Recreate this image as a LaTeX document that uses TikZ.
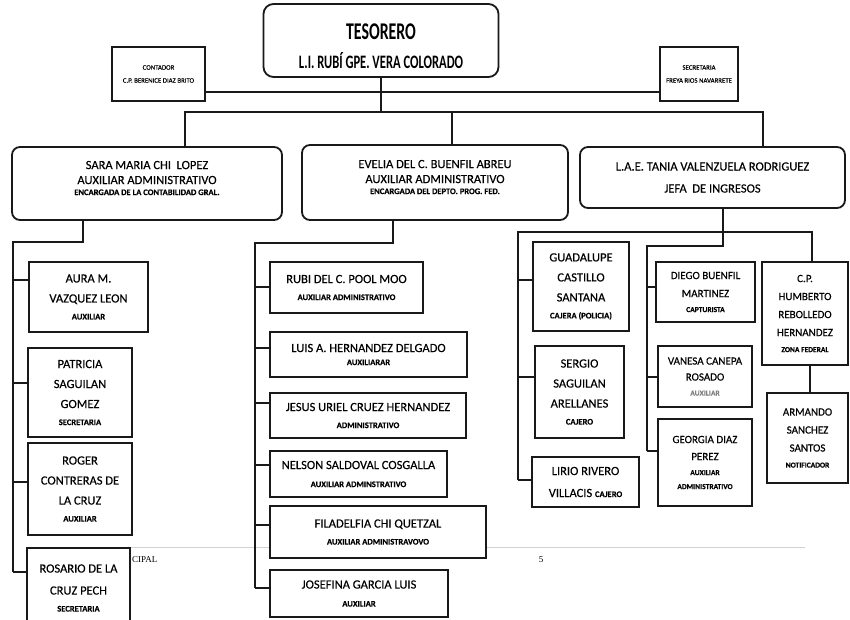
\documentclass[tikz,border=0pt]{standalone}
\usepackage{fontspec}
\setmainfont{Carlito}[FakeBold=0.35]
\newfontfamily\topfont{Carlito}[FakeStretch=0.66]
\newfontfamily\footfont{Liberation Serif}
\definecolor{orgink}{RGB}{25,25,25}
\newcommand{\rolesm}[1]{{\fontsize{8.5}{10}\selectfont\bfseries #1}}
\newcommand{\roletiny}[1]{{\fontsize{7.5}{9}\selectfont\bfseries #1}}

\begin{document}
\begin{tikzpicture}[x=1pt, y=-1pt,
  orgbox/.style={draw=orgink, line width=1.8pt, fill=white, inner sep=0pt, align=center},
  topbox/.style={orgbox, rounded corners=10pt},
  headbox/.style={orgbox, rounded corners=8pt, font=\fontsize{12.5}{15}\selectfont},
  smallbox/.style={orgbox, font=\fontsize{6.8}{13}\selectfont},
  staffbox/.style={orgbox, font=\fontsize{12.5}{20}\selectfont},
  fieldbox/.style={orgbox, font=\fontsize{11}{18}\selectfont},
  link/.style={draw=orgink, line width=1.8pt}]

  \useasboundingbox (0,0) rectangle (850,619);
  \fill[white] (0,0) rectangle (850,619);
  \clip (0,0) rectangle (850,619);

  % page footer
  \coordinate (footL) at (130,547);
  \coordinate (footR) at (805,547);
  \draw[gray!35, line width=0.6pt] (footL) -- (footR);
  \node[anchor=west, inner sep=0pt, font=\footfont\fontsize{9}{10}\selectfont] (footword) at (132,560) {CIPAL};
  \node[inner sep=0pt, font=\footfont\fontsize{9}{10}\selectfont] (pagenum) at (541,560) {5};

  % top level
  \node[topbox, minimum width=235pt, minimum height=73pt] (tes) at (381,40.5) {};
  \node[anchor=base, font=\topfont\bfseries\fontsize{24}{26}\selectfont] (testitle) at (381,39) {TESORERO};
  \node[anchor=base, font=\topfont\bfseries\fontsize{19}{21}\selectfont] (tesname) at (381,68) {L.I. RUBÍ GPE. VERA COLORADO};
  \node[smallbox, minimum width=93pt, minimum height=54pt] (cont) at (158.5,74) {CONTADOR\\C.P. BERENICE DIAZ BRITO};
  \node[smallbox, minimum width=78pt, minimum height=54pt] (secr) at (699,74) {SECRETARIA\\FREYA RIOS NAVARRETE};

  % heads
  \node[headbox, text depth=11pt, minimum width=270pt, minimum height=73pt] (sara) at (147,183.5)
    {SARA MARIA CHI~ LOPEZ\\AUXILIAR ADMINISTRATIVO\\[-4pt]\rolesm{ENCARGADA DE LA CONTABILIDAD GRAL.}};
  \node[headbox, text depth=11pt, minimum width=266pt, minimum height=75pt] (evel) at (435,182.5)
    {EVELIA DEL C. BUENFIL ABREU\\AUXILIAR ADMINISTRATIVO\\[-4pt]\rolesm{ENCARGADA DEL DEPTO. PROG. FED.}};
  \node[headbox, minimum width=265pt, minimum height=61pt] (tania) at (712.5,177.5)
    {L.A.E. TANIA VALENZUELA RODRIGUEZ\\[7pt]JEFA~ DE INGRESOS};

  % left column
  \node[staffbox, minimum width=119pt, minimum height=70pt] (aura) at (88.5,297) {AURA M.\\VAZQUEZ LEON\\[-3pt]\rolesm{AUXILIAR}};
  \node[staffbox, minimum width=104pt, minimum height=89pt] (patr) at (80,392.5) {PATRICIA\\SAGUILAN\\GOMEZ\\[-3pt]\rolesm{SECRETARIA}};
  \node[staffbox, minimum width=104pt, minimum height=92pt] (roger) at (80,489) {ROGER\\CONTRERAS DE\\LA CRUZ\\[-3pt]\rolesm{AUXILIAR}};
  \node[staffbox, minimum width=103pt, minimum height=80pt] (rosa) at (78.5,588) {ROSARIO DE LA\\[2pt]CRUZ PECH\\[-3pt]\rolesm{SECRETARIA}};

  % middle column
  \node[staffbox, minimum width=153pt, minimum height=51pt] (rubi) at (346.5,287.5) {RUBI DEL C. POOL MOO\\[-3pt]\rolesm{AUXILIAR ADMINISTRATIVO}};
  \node[staffbox, minimum width=197pt, minimum height=45pt] (luis) at (368.5,354.5) {LUIS A. HERNANDEZ DELGADO\\[-7pt]\rolesm{AUXILIARAR}};
  \node[staffbox, minimum width=196pt, minimum height=45pt] (jesus) at (368,415.5) {JESUS URIEL CRUEZ HERNANDEZ\\[-3pt]\rolesm{ADMINISTRATIVO}};
  \node[staffbox, minimum width=177pt, minimum height=46pt] (nels) at (358.5,474) {NELSON SALDOVAL COSGALLA\\[-2pt]\rolesm{AUXILIAR ADMINSTRATIVO}};
  \node[staffbox, minimum width=216pt, minimum height=52pt] (fila) at (378,532) {FILADELFIA CHI QUETZAL\\[-3pt]\rolesm{AUXILIAR ADMINISTRAVOVO}};
  \node[staffbox, minimum width=178pt, minimum height=47pt] (jose) at (359,593.5) {JOSEFINA GARCIA LUIS\\[-2pt]\rolesm{AUXILIAR}};

  % right columns
  \node[staffbox, minimum width=96pt, minimum height=89pt] (guad) at (581,286.5) {GUADALUPE\\CASTILLO\\SANTANA\\[-3pt]\rolesm{CAJERA (POLICIA)}};
  \node[staffbox, minimum width=89pt, minimum height=92pt] (serg) at (579.5,392) {SERGIO\\SAGUILAN\\ARELLANES\\[-3pt]\rolesm{CAJERO}};
  \node[staffbox, minimum width=107pt, minimum height=50pt] (lirio) at (585.5,482) {LIRIO RIVERO\\[2pt]VILLACIS \rolesm{CAJERO}};
  \node[fieldbox, minimum width=99pt, minimum height=60pt] (diego) at (705.5,292) {DIEGO BUENFIL\\MARTINEZ\\[-3pt]\roletiny{CAPTURISTA}};
  \node[fieldbox, minimum width=94pt, minimum height=61pt] (vane) at (705,376.5) {VANESA CANEPA\\[-2pt]ROSADO\\[-3pt]{\color{orgink!55}\roletiny{AUXILIAR}}};
  \node[fieldbox, minimum width=94pt, minimum height=87pt] (geor) at (705,462.5) {GEORGIA DIAZ\\[-1pt]PEREZ\\[-3pt]\roletiny{AUXILIAR}\\[-4pt]\roletiny{ADMINISTRATIVO}};
  \node[fieldbox, minimum width=86pt, minimum height=103pt] (humb) at (805,313.5) {C.P.\\HUMBERTO\\REBOLLEDO\\HERNANDEZ\\[-2pt]\roletiny{ZONA FEDERAL}};
  \node[fieldbox, minimum width=81pt, minimum height=90pt] (arma) at (807.5,438) {ARMANDO\\SANCHEZ\\SANTOS\\[-2pt]\roletiny{NOTIFICADOR}};

  % top connectors
  \coordinate (topbar) at (0,92);
  \coordinate (hub) at (381,112);
  \coordinate (barL) at (185,112);
  \coordinate (barM) at (452,112);
  \coordinate (barR) at (763,112);
  \draw[link] (cont.east |- topbar) -- (secr.west |- topbar);
  \draw[link] (tes.south) -- (hub);
  \draw[link] (sara.north -| barL) -- (barL) -- (barR) -- (tania.north -| barR);
  \draw[link] (barM) -- (evel.north -| barM);

  % left column connectors
  \coordinate (saradrop) at (83,242);
  \coordinate (lspine) at (13,242);
  \foreach \who/\yb in {aura/280, patr/383, roger/482, rosa/572}{
    \coordinate (j-\who) at (13,\yb);
    \draw[link] (j-\who) -- (j-\who -| \who.west);
  }
  \draw[link] (sara.south -| saradrop) -- (saradrop) -- (lspine) -- (j-rosa);

  % middle column connectors
  \coordinate (evdrop) at (393,243);
  \coordinate (mspine) at (255,243);
  \foreach \who/\yb in {rubi/287, luis/348, jesus/403, nels/465, fila/525, jose/588}{
    \coordinate (j-\who) at (255,\yb);
    \draw[link] (j-\who) -- (j-\who -| \who.west);
  }
  \draw[link] (evel.south -| evdrop) -- (evdrop) -- (mspine) -- (j-jose);

  % right connectors
  \foreach \who/\yb in {guad/280, serg/377, lirio/480}{
    \coordinate (j-\who) at (518,\yb);
    \draw[link] (j-\who) -- (j-\who -| \who.west);
  }
  \foreach \who/\yb in {diego/287, vane/377, geor/451}{
    \coordinate (j-\who) at (647,\yb);
    \draw[link] (j-\who) -- (j-\who -| \who.west);
  }
  \coordinate (tadrop) at (723,246);
  \coordinate (rspine) at (647,246);
  \coordinate (rbar) at (518,232);
  \coordinate (rbarE) at (812,232);
  \coordinate (armdrop) at (810,379);
  \draw[link] (tania.south -| tadrop) -- (tadrop) -- (rspine) -- (j-geor);
  \draw[link] (j-lirio) -- (rbar) -- (rbarE) -- (humb.north -| rbarE);
  \draw[link] (humb.south -| armdrop) -- (arma.north -| armdrop);
\end{tikzpicture}
\end{document}
